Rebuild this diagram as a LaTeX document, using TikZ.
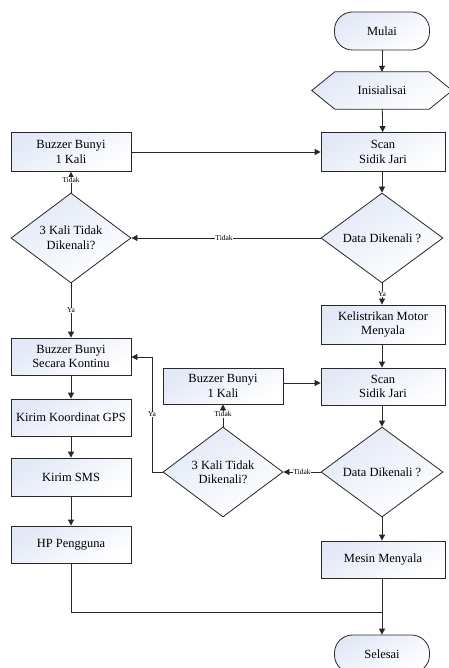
\documentclass[tikz,border=0pt]{standalone}
\usepackage{fontspec}
\setmainfont{Liberation Serif}
\usetikzlibrary{shapes.geometric,arrows.meta,calc,backgrounds}
\definecolor{fillA}{RGB}{226,232,246}
\definecolor{lineC}{RGB}{40,40,40}
\tikzset{
  shade/.style={top color=fillA, bottom color=white, shading angle=30},
  box/.style={draw=lineC, line width=0.8pt, shade, rectangle, inner sep=0pt, align=center,
     font=\fontsize{12.5}{14.5}\selectfont},
  decision/.style={draw=lineC, line width=0.8pt, shade, diamond, inner sep=0pt, align=center,
     font=\fontsize{12.5}{14.5}\selectfont},
  term/.style={draw=lineC, line width=0.8pt, shade, rectangle, rounded corners=18pt, inner sep=0pt,
     minimum width=95pt, minimum height=38pt, font=\fontsize{12.5}{14.5}\selectfont},
  plain/.style={inner sep=0pt, align=center, font=\fontsize{12.5}{14.5}\selectfont},
  arr/.style={draw=lineC, line width=0.8pt, -{Triangle[length=6pt,width=6pt]}},
  ln/.style={draw=lineC, line width=0.8pt},
  lbl/.style={fill=white, inner sep=0.5pt, font=\fontsize{7.5}{8}\selectfont},
}
\begin{document}
\begin{tikzpicture}[x=1pt,y=-1pt]
\useasboundingbox (0,0) rectangle (448,668);
% right column
\node[term] (mulai) at (382,31) {Mulai};
\node[plain, minimum width=140pt, minimum height=37pt] (init) at (382,90.5) {Inisialisai};
\begin{scope}[on background layer]
\path[draw=lineC, line width=0.8pt, shade] (init.west) -- ($(init.north west)+(23,0)$) -- ($(init.north east)+(-23,0)$) -- (init.east) -- ($(init.south east)+(-23,0)$) -- ($(init.south west)+(23,0)$) -- cycle;
\end{scope}
\node[box, minimum width=124pt, minimum height=39pt] (scan1) at (383,152) {Scan\\Sidik Jari};
\node[decision, minimum width=122pt, minimum height=90pt] (d1) at (382,238) {Data Dikenali ?};
\node[box, minimum width=124pt, minimum height=39pt] (kelis) at (383,324.5) {Kelistrikan Motor\\Menyala};
\node[box, minimum width=124pt, minimum height=37pt] (scan2) at (383,386.5) {Scan\\Sidik Jari};
\node[decision, minimum width=122pt, minimum height=90pt] (d4) at (382,472) {Data Dikenali ?};
\node[box, minimum width=124pt, minimum height=37pt] (mesin) at (383,559.5) {Mesin Menyala};
\node[term] (selesai) at (382,654) {Selesai};
% left column
\node[box, minimum width=120pt, minimum height=39pt] (buz1) at (71,152) {Buzzer Bunyi\\1 Kali};
\node[decision, minimum width=120pt, minimum height=90pt] (d2) at (71,238) {3 Kali Tidak\\Dikenali?};
\node[box, minimum width=120pt, minimum height=37pt] (kont) at (71,356.5) {Buzzer Bunyi\\Secara Kontinu};
\node[box, minimum width=120pt, minimum height=37pt] (gps) at (71,417.5) {Kirim Koordinat GPS};
\node[box, minimum width=120pt, minimum height=38pt] (sms) at (71,477) {Kirim SMS};
\node[box, minimum width=120pt, minimum height=37pt] (hp) at (71,544.5) {HP Pengguna};
% middle column
\node[box, minimum width=120pt, minimum height=36pt] (buz2) at (223,386) {Buzzer Bunyi\\1 Kali};
\node[decision, minimum width=120pt, minimum height=90pt] (d3) at (223,472) {3 Kali Tidak\\Dikenali?};
\coordinate (bend) at (152,472);
\coordinate (bend2) at (152,357);
\coordinate (join) at (382,612);
\coordinate (hpc) at (71,612);
% connectors
\draw[arr] (mulai) -- (init);
\draw[arr] (init) -- (scan1);
\draw[arr] (buz1.east |- 0,152) -- (scan1.west);
\draw[arr] (scan1.south -| d1.north) -- (d1.north);
\draw[arr] (d1.west) -- node[lbl, pos=0.51]{Tidak} (d2.east);
\draw[arr] (d2.north) -- node[lbl, pos=0.6]{Tidak} (buz1.south -| d2.north);
\draw[arr] (d1.south) -- node[lbl, pos=0.5]{Ya} (kelis.north -| d1.south);
\draw[arr] (d2.south) -- node[lbl, pos=0.5]{Ya} (kont.north);
\draw[arr] (kelis.south -| d1.south) -- (scan2.north -| d1.south);
\draw[arr] (buz2.east |- 0,383) -- (scan2.west |- 0,383);
\draw[arr] (scan2.south -| d4.north) -- (d4.north);
\draw[arr] (d4.west) -- node[lbl, pos=0.5]{Tidak} (d3.east);
\draw[arr] (d3.north) -- node[lbl, pos=0.55]{Tidak} (buz2.south);
\draw[arr] (d3.west) -- (bend) -- node[lbl, pos=0.5]{Ya} (bend2) -- (kont.east |- bend2);
\draw[arr] (kont) -- (gps);
\draw[arr] (gps) -- (sms);
\draw[arr] (sms) -- (hp);
\draw[arr] (d4.south) -- (mesin.north -| d4.south);
\draw[ln] (hp.south) -- (hpc) -- (join);
\draw[arr] (mesin.south -| join) -- (selesai.north);
\end{tikzpicture}
\end{document}
